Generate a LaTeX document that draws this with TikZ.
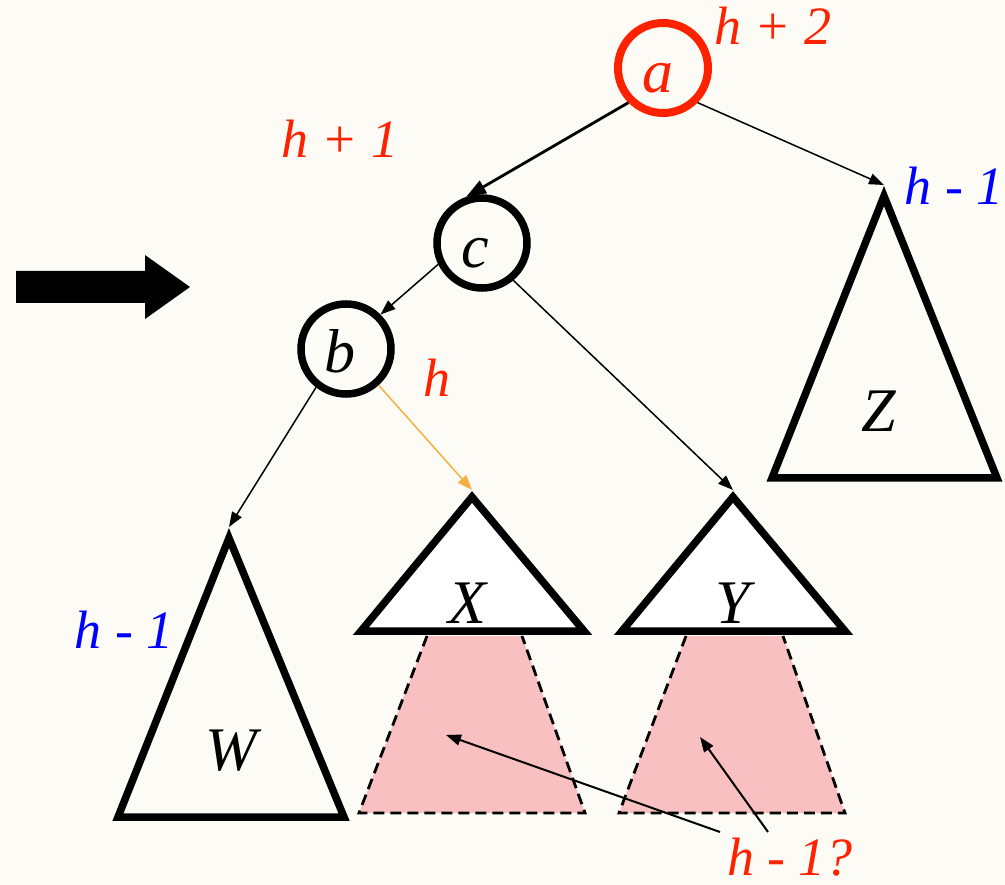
\documentclass[tikz,border=0pt]{standalone}
\usepackage{fontspec}
\newfontfamily\avlit{LiberationSerif-Italic.ttf}
\usetikzlibrary{arrows.meta,calc}
\definecolor{avlcream}{RGB}{252,251,246}
\definecolor{avlred}{RGB}{255,34,0}
\definecolor{avlorange}{RGB}{244,176,66}
\definecolor{avlpink}{RGB}{248,192,192}

\begin{document}
\begin{tikzpicture}[x=1pt,y=-1pt,
  vtx/.style={circle,draw,line width=7.5pt,minimum size=90pt,inner sep=0pt},
  tri/.style={draw,line width=7.5pt,line join=miter},
  letter/.style={anchor=base,inner sep=0pt,font=\fontsize{62}{70}\selectfont\avlit},
  hgt/.style={anchor=base,inner sep=0pt,font=\fontsize{54}{60}\selectfont\avlit},
  edge/.style={line width=1.5pt,-{Triangle[length=15pt,width=11pt]}},
  trap/.style={draw,line width=2.8pt,dash pattern=on 11pt off 6pt}]
  \useasboundingbox[fill=avlcream] (0,0) rectangle (1005,885);
  % nodes of the tree
  \node[vtx,draw=avlred,line width=8pt] (a) at (663,68) {};
  \node[vtx] (c) at (482,243) {};
  \node[vtx] (b) at (346,349) {};
  \node[letter,avlred] (aL) at (658,93) {a};
  \node[letter] (cL) at (475,268) {c};
  \node[letter] (bL) at (340,373) {b};
  % subtrees
  \coordinate (Xtop) at (472,490);
  \coordinate (Ytop) at (733,490);
  \coordinate (Ztop) at (884,185);
  \coordinate (Wtop) at (229,527);
  \fill[avlpink] (427,636) -- (522,636) -- (585,813) -- (359,813) -- cycle;
  \draw[trap] (427,636) -- (359,813) -- (585,813) -- (522,636);
  \fill[avlpink] (686,636) -- (783,636) -- (845,813) -- (619,813) -- cycle;
  \draw[trap] (686,636) -- (619,813) -- (845,813) -- (783,636);
  \draw[tri,fill=white] (472,497) -- (584,631) -- (361,631) -- cycle;
  \draw[tri,fill=white] (733,497) -- (845,631) -- (622,631) -- cycle;
  \draw[tri] (884,196) -- (997,478) -- (772,478) -- cycle;
  \draw[tri] (229,538) -- (344,817) -- (118,817) -- cycle;
  \node[letter] (XL) at (467,623) {X};
  \node[letter] (YL) at (733,623) {Y};
  \node[letter] (ZL) at (879,432) {Z};
  \node[letter] (WL) at (231,770) {W};
  % edges
  \draw[edge,line width=2.8pt,-{Triangle[length=20pt,width=14pt]}] (a.225) -- (c.109);
  \draw[edge] (a.-45) -- (Ztop);
  \draw[edge] (c.206) -- (b.45);
  \draw[edge] (c.-50) -- (Ytop);
  \draw[edge] (b.232) -- (Wtop);
  \draw[edge,avlorange] (b.-48) -- (Xtop);
  % heights
  \node[hgt,avlred] (h2) at (773,45) {h + 2};
  \node[hgt,avlred] (h1) at (340,158) {h + 1};
  \node[hgt,blue] (hZ) at (954,205) {h - 1};
  \node[hgt,blue] (hW) at (124,648) {h - 1};
  \node[hgt,avlred] (hb) at (437,397) {h};
  \node[hgt,avlred] (hq) at (790,875) {h - 1?};
  \coordinate (q1) at (720,832);
  \coordinate (q2) at (768,832);
  \coordinate (Xin) at (446,735);
  \coordinate (Yin) at (700,737);
  \draw[edge,line width=2pt] (q1) -- (Xin);
  \draw[edge,line width=2pt] (q2) -- (Yin);
  % big arrow
  \fill (16,271) -- (145,271) -- (145,255) -- (190,287) -- (145,319) -- (145,303) -- (16,303) -- cycle;
\end{tikzpicture}
\end{document}
